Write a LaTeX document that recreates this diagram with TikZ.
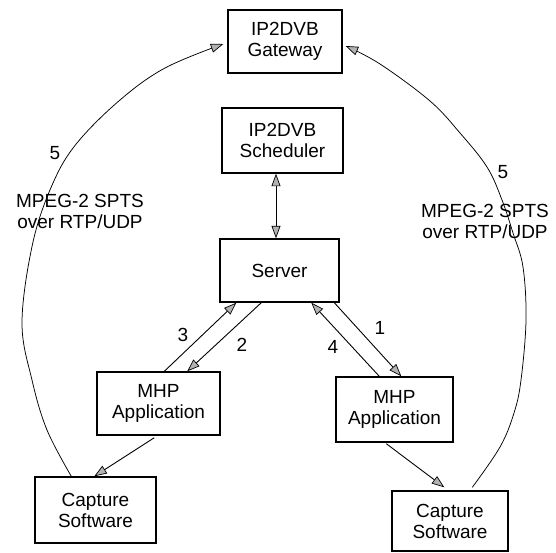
\documentclass[tikz,border=0pt]{standalone}
\usepackage{fontspec}
\setmainfont{Liberation Sans}
\usetikzlibrary{arrows.meta}
\tikzset{
  tip/.style={Triangle[length=12.5pt,width=9pt,fill=gray!60,line width=0.7pt]},
  box/.style={draw=black, line width=1.4pt, fill=white, inner sep=0pt, align=center,
    font=\fontsize{19}{21}\selectfont},
  link/.style={draw=black, line width=0.9pt, -{Triangle[length=12.5pt,width=9pt,fill=gray!60,line width=0.7pt]}},
  duallink/.style={draw=black, line width=0.9pt,
    {Triangle[length=12.5pt,width=9pt,fill=gray!60,line width=0.7pt]}-{Triangle[length=12.5pt,width=9pt,fill=gray!60,line width=0.7pt]}},
  stream/.style={draw=black, line width=0.75pt, -{Triangle[length=12.5pt,width=9pt,fill=gray!60,line width=0.7pt]}},
  lbl/.style={font=\fontsize{19}{21}\selectfont, inner sep=0pt, align=center}
}
\begin{document}
\begin{tikzpicture}[x=1pt, y=-1pt]
\useasboundingbox (0,0) rectangle (556,552);

% boxes
\node[box, minimum width=114pt, minimum height=63pt] (gw)   at (285,41.5)   {IP2DVB\\Gateway};
\node[box, minimum width=121pt, minimum height=65pt] (sch)  at (282.5,140.5) {IP2DVB\\Scheduler};
\node[box, minimum width=119pt, minimum height=63pt] (srv)  at (279.5,270.5) {Server};
\node[box, minimum width=123pt, minimum height=63pt] (mhpL) at (158.5,403.5) {MHP\\Application};
\node[box, minimum width=117pt, minimum height=65pt] (mhpR) at (394.5,409.5) {MHP\\Application};
\node[box, minimum width=121pt, minimum height=66pt] (capL) at (95.5,510)    {Capture\\Software};
\node[box, minimum width=116pt, minimum height=60pt] (capR) at (450,521)     {Capture\\Software};

% scheduler <-> server
\draw[duallink] ([xshift=-6.5pt]sch.south) -- ([xshift=-3.5pt]srv.north);

% server <-> left application
\draw[link] ([xshift=68pt]mhpL.north west) -- ([xshift=17pt]srv.south west);
\draw[link] ([xshift=42pt]srv.south west) -- ([xshift=91pt]mhpL.north west);

% server <-> right application
\draw[link] ([xshift=115pt]srv.south west) -- ([xshift=66pt]mhpR.north west);
\draw[link] ([xshift=44pt]mhpR.north west) -- ([xshift=92pt]srv.south west);

% applications -> capture software
\draw[link] ([xshift=58pt,yshift=-2pt]mhpL.south west) -- ([xshift=60pt]capL.north west);
\draw[link] ([xshift=51pt,yshift=-1pt]mhpR.south west) -- ([xshift=53pt,yshift=3pt]capR.north west);

% streams from capture software to the gateway
\draw[stream] plot[smooth, tension=0.6] coordinates {
  ([xshift=37pt]capL.north west) (47,430) (32,380) (22,322) (33,242) (53,183)
  (77,143) (120,100) (165,68) ([xshift=-4pt,yshift=-2.5pt]gw.west)};
\draw[stream] plot[smooth, tension=0.6] coordinates {
  ([xshift=81pt,yshift=3pt]capR.north west) (500,447) (514,413) (521,380) (526,320)
  (523,267) (513,233) (502,200) (487,167) (460,133) (430,101) (380,64)
  ([xshift=3pt,yshift=-4.5pt]gw.east)};

% labels
\node[lbl] (n3) at (183,335) {3};
\node[lbl] (n2) at (242,345) {2};
\node[lbl] (n1) at (380,328) {1};
\node[lbl] (n4) at (333,347) {4};
\node[lbl] (n5l) at (55,153) {5};
\node[lbl] (n5r) at (503,172) {5};
\node[lbl] (tl) at (80,211) {MPEG-2 SPTS\\over RTP/UDP};
\node[lbl] (tr) at (485,221) {MPEG-2 SPTS\\over RTP/UDP};
\end{tikzpicture}
\end{document}
